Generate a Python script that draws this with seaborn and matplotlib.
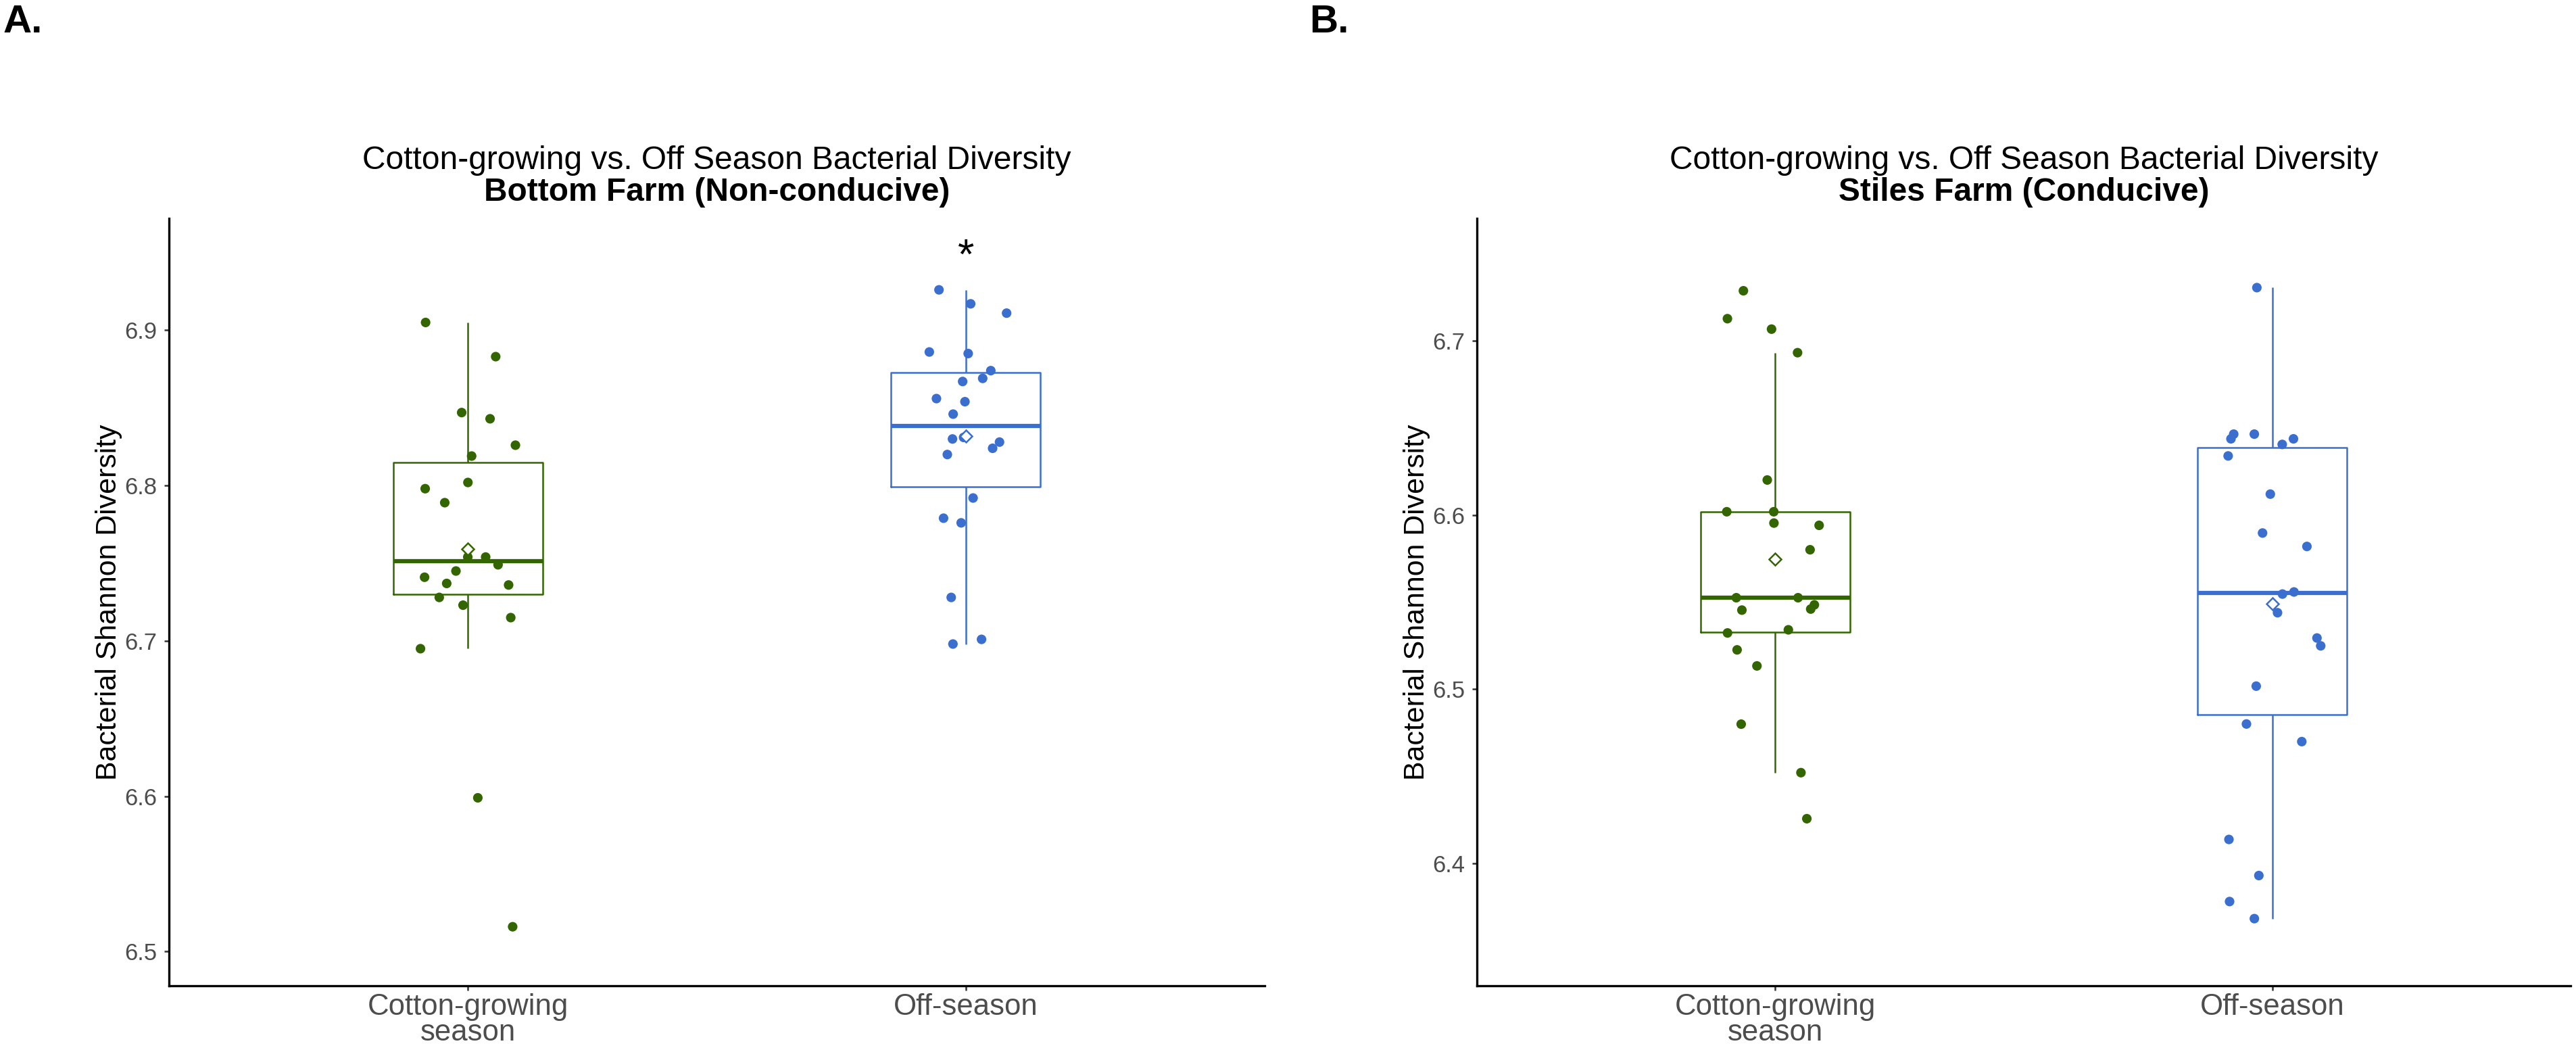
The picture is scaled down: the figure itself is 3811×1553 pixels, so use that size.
import numpy as np
import pandas as pd
import matplotlib
matplotlib.use("Agg")
import matplotlib.pyplot as plt
import seaborn as sns

# ---------------- data ----------------
seasons = ["Cotton-growing\nseason", "Off-season"]
season_colors = ["#336600", "#3A6FD0"]

bottom_cotton = [6.905, 6.883, 6.847, 6.843, 6.826, 6.819, 6.802, 6.798, 6.789,
                 6.754, 6.754, 6.749, 6.745, 6.741, 6.737, 6.736, 6.728, 6.723,
                 6.715, 6.695, 6.599, 6.516]
bottom_off = [6.926, 6.917, 6.911, 6.886, 6.885, 6.874, 6.869, 6.867, 6.856,
              6.854, 6.846, 6.831, 6.830, 6.828, 6.824, 6.820, 6.792, 6.779,
              6.776, 6.728, 6.701, 6.698]
stiles_cotton = [6.7285, 6.7125, 6.7065, 6.693, 6.620, 6.6018, 6.6018, 6.5953,
                 6.594, 6.580, 6.5525, 6.5525, 6.5484, 6.546, 6.5454, 6.5341,
                 6.5323, 6.5226, 6.5134, 6.480, 6.4522, 6.4258]
stiles_off = [6.7303, 6.6463, 6.6463, 6.6436, 6.6436, 6.6404, 6.6338, 6.6119,
              6.5896, 6.5819, 6.5558, 6.5546, 6.5439, 6.5294, 6.5249, 6.5018,
              6.4801, 6.4700, 6.4139, 6.3932, 6.3783, 6.3685]

bottom_yticks = [6.5, 6.6, 6.7, 6.8, 6.9]
stiles_yticks = [6.4, 6.5, 6.6, 6.7]
bottom_ylim = (6.478, 6.972)
stiles_ylim = (6.330, 6.770)

title_main = "Cotton-growing vs. Off Season Bacterial Diversity"
subtitle_a = "Bottom Farm (Non-conducive)"
subtitle_b = "Stiles Farm (Conducive)"
ylabel = "Bacterial Shannon Diversity"
signif_a = "*"

# ---------------- style ----------------
sns.set_style("white")
plt.rcParams['font.family'] = ['Liberation Sans', 'DejaVu Sans']

W, H = 3811, 1553
fig = plt.figure(figsize=(W / 300, H / 300), dpi=300)

pal = dict(zip(seasons, season_colors))


def make_df(cotton, off):
    return pd.DataFrame({
        "season": [seasons[0]] * len(cotton) + [seasons[1]] * len(off),
        "value": list(cotton) + list(off),
    })


def panel(rect, cotton, off, ylim, yticks, subtitle, letter, letter_x, seed):
    ax = fig.add_axes(rect)
    df = make_df(cotton, off)
    sns.boxplot(data=df, x="season", y="value", hue="season", palette=pal,
                order=seasons, hue_order=seasons, dodge=False, fill=False,
                width=0.3, showfliers=False, showcaps=False, whis=1.5,
                linewidth=0.6, medianprops={"linewidth": 1.5},
                legend=False, ax=ax)
    np.random.seed(seed)
    sns.stripplot(data=df, x="season", y="value", hue="season", palette=pal,
                  order=seasons, hue_order=seasons, dodge=False, jitter=0.1,
                  size=3.4, linewidth=0, legend=False, ax=ax, zorder=3)
    sns.pointplot(data=df, x="season", y="value", hue="season", palette=pal,
                  order=seasons, hue_order=seasons, dodge=False,
                  estimator="mean", errorbar=None, markers="D",
                  linestyles="none", markersize=3.0, markeredgewidth=0.6,
                  markerfacecolor="white", legend=False, ax=ax, zorder=5)
    ax.set_xlim(-0.6, 1.6)
    ax.set_ylim(*ylim)
    ax.set_xlabel("")
    ax.set_ylabel("")
    ax.set_xticks([0, 1])
    ax.set_xticklabels(seasons, linespacing=0.9)
    ax.set_yticks(yticks)
    ax.set_yticklabels([f"{t:.1f}" for t in yticks])
    sns.despine(ax=ax)
    for s in ("left", "bottom"):
        ax.spines[s].set_linewidth(0.8)
        ax.spines[s].set_color("black")
    ax.tick_params(axis="both", direction="out", length=1.6, width=0.6,
                   color="#333333", labelcolor="#4D4D4D", left=True, bottom=True)
    ax.tick_params(axis="y", labelsize=8.3, pad=2.6)
    ax.tick_params(axis="x", labelsize=10.5, pad=1.0)

    cx = rect[0] + rect[2] / 2
    fig.text(cx, 1 - 250 / H, title_main, ha="center", va="baseline",
             fontsize=11.5, color="black")
    fig.text(cx, 1 - 297 / H, subtitle, ha="center", va="baseline",
             fontsize=11.5, fontweight="bold", color="black")
    fig.text(rect[0] - 89 / W, rect[1] + rect[3] / 2, ylabel, rotation=90,
             ha="center", va="center", fontsize=10.3, color="black")
    fig.text(letter_x, 1 - 48 / H, letter, ha="left", va="baseline",
             fontsize=14, fontweight="bold", color="black")
    return ax


bottom = 1 - 1458 / H
top = 1 - 323 / H
axA = panel([250 / W, bottom, (1871 - 250) / W, top - bottom],
            bottom_cotton, bottom_off, bottom_ylim, bottom_yticks,
            subtitle_a, "A.", 5 / W, 7)
axA.text(1, 6.940, signif_a, ha="center", va="baseline", fontsize=15,
         color="black")

axB = panel([2185 / W, bottom, (3803 - 2185) / W, top - bottom],
            stiles_cotton, stiles_off, stiles_ylim, stiles_yticks,
            subtitle_b, "B.", 1937 / W, 11)

fig.savefig("out.png", dpi=300, facecolor="white")
